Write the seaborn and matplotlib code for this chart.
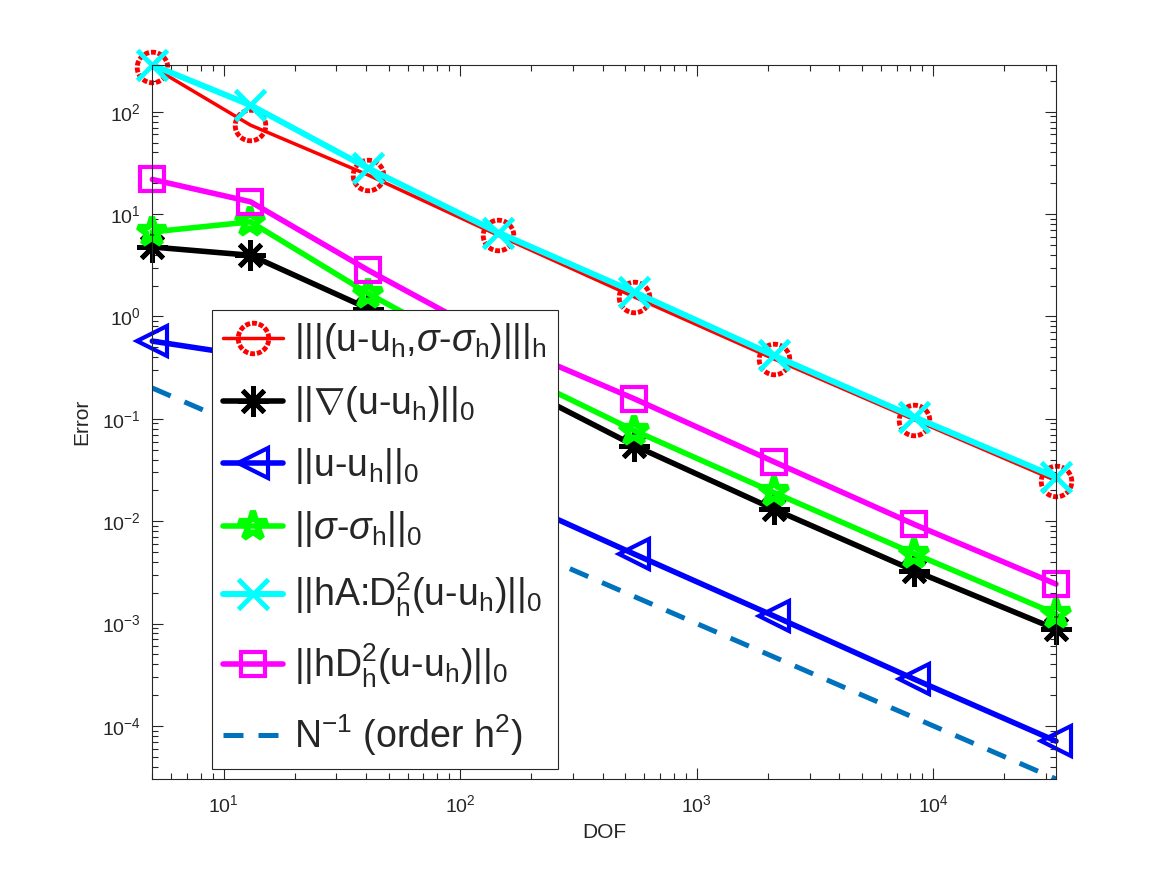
import numpy as np
import pandas as pd
import matplotlib
matplotlib.use("Agg")
import matplotlib.pyplot as plt
from matplotlib.path import Path
import seaborn as sns

# degrees of freedom for each mesh level
dof = [5, 13, 41, 145, 545, 2113, 8321, 33025]

# error norms
err_energy = [275, 74, 24, 6.2, 1.55, 0.386, 0.098, 0.0249]
err_grad = [4.77, 3.96, 1.19, 0.263, 0.0548, 0.01315, 0.00328, 0.00088]
err_l2 = [0.574, 0.41, 0.085, 0.019, 0.00477, 0.00119, 0.000286, 7.1e-5]
err_sigma = [6.7, 8.4, 1.67, 0.34, 0.0767, 0.0191, 0.0048, 0.00124]
err_hAD2 = [286, 116, 27.9, 6.6, 1.73, 0.417, 0.104, 0.0269]
err_hD2 = [21.8, 13.2, 2.82, 0.58, 0.157, 0.0382, 0.0093, 0.00243]
ref_order = [1.0 / n for n in dof]

labels = [
    r"|||(u-u$_\mathregular{h}$,$\sigma$-$\sigma_\mathregular{h}$)|||$_\mathregular{h}$",
    r"||$\nabla$(u-u$_\mathregular{h}$)||$_\mathregular{0}$",
    r"||u-u$_\mathregular{h}$||$_\mathregular{0}$",
    r"||$\sigma$-$\sigma_\mathregular{h}$||$_\mathregular{0}$",
    r"||hA:D$_\mathregular{h}^\mathregular{2}$(u-u$_\mathregular{h}$)||$_\mathregular{0}$",
    r"||hD$_\mathregular{h}^\mathregular{2}$(u-u$_\mathregular{h}$)||$_\mathregular{0}$",
    r"N$^\mathregular{-1}$ (order h$^\mathregular{2}$)",
]

sns.set_style("ticks")
plt.rcParams["font.family"] = ["Liberation Sans", "DejaVu Sans"]
plt.rcParams["mathtext.fontset"] = "custom"
plt.rcParams["mathtext.rm"] = "Liberation Sans"
plt.rcParams["mathtext.it"] = "Liberation Sans:italic"
plt.rcParams["mathtext.bf"] = "Liberation Sans:bold"

# circle marker drawn as short arcs, so its outline looks dashed
verts, codes = [], []
n_dash = 14
for k in range(n_dash):
    t = np.linspace(0, 0.72, 6) * 2 * np.pi / n_dash + k * 2 * np.pi / n_dash
    verts += list(zip(np.cos(t), np.sin(t)))
    codes += [Path.MOVETO] + [Path.LINETO] * 5
dashed_circle = Path(verts, codes)

fig = plt.figure(figsize=(11.67, 8.75), dpi=100)
ax = fig.add_axes([0.1305, 0.1097, 0.7744, 0.816])

# values, colour, marker, marker size, marker edge width, line width
series = [
    (err_energy, "#ff0000", dashed_circle, 22, 3.5, 2.5),
    (err_grad, "#000000", (8, 2, 0), 22, 3.5, 4.0),
    (err_l2, "#0000ff", "<", 22, 3.0, 4.0),
    (err_sigma, "#00ff00", "*", 21, 4.5, 4.0),
    (err_hAD2, "#00ffff", "x", 21, 3.5, 4.3),
    (err_hD2, "#ff00ff", "s", 17, 3.0, 4.0),
]

for (vals, col, mk, ms, mew, lw), lab in zip(series, labels):
    df = pd.DataFrame({"DOF": dof, "Error": vals})
    sns.lineplot(data=df, x="DOF", y="Error", ax=ax, color=col, marker=mk,
                 markersize=ms, markeredgewidth=mew, markerfacecolor="none",
                 markeredgecolor=col, linewidth=lw, label=lab, clip_on=False)

df_ref = pd.DataFrame({"DOF": dof, "Error": ref_order})
sns.lineplot(data=df_ref, x="DOF", y="Error", ax=ax, color="#0072bd",
             linewidth=3.6, label=labels[-1])
ax.lines[-1].set_dashes((4, 3))

ax.set_xscale("log")
ax.set_yscale("log")
all_vals = np.concatenate([err_energy, err_grad, err_l2, err_sigma,
                           err_hAD2, err_hD2, ref_order])
ax.set_xlim(min(dof), max(dof))
ax.set_ylim(all_vals.min(), all_vals.max())

ax.set_xlabel("DOF", fontsize=15, color="#262626", labelpad=5)
ax.set_ylabel("Error", fontsize=15, color="#262626", labelpad=8)
ax.tick_params(which="both", direction="in", top=True, right=True,
               labelsize=14, color="#262626", labelcolor="#262626")
ax.tick_params(which="major", length=8, width=0.8)
ax.tick_params(axis="x", which="major", pad=11)
ax.tick_params(axis="y", which="major", pad=8)
ax.tick_params(which="minor", length=4, width=0.8)
for sp in ax.spines.values():
    sp.set_color("#262626")
    sp.set_linewidth(0.8)

leg = ax.legend(loc="upper left", bbox_to_anchor=(0.066, 0.657),
                borderaxespad=0, fontsize=27, frameon=True, fancybox=False,
                edgecolor="#262626", framealpha=1, handlelength=1.6,
                handletextpad=0.3, labelspacing=0.6, borderpad=0.3)
leg.get_frame().set_linewidth(0.8)

fig.savefig("out.png", dpi=100)
